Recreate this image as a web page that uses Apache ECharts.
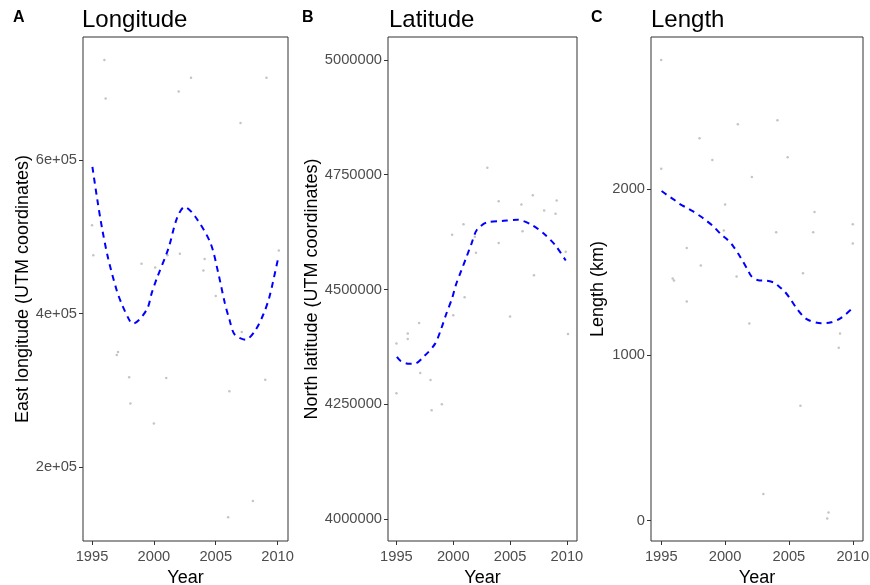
<!DOCTYPE html>
<html>
<head>
<meta charset="utf-8">
<script src="https://cdn.jsdelivr.net/npm/echarts@6/dist/echarts.min.js"></script>
<style>
  html, body { margin: 0; padding: 0; background: #fff; }
  #chart { width: 870px; height: 585px; }
</style>
</head>
<body>
<div id="chart"></div>
<script>
// year ticks shared by all three panels
var yearTicks = [1995, 2000, 2005, 2010];

// A - longitude
var lonYears = [1996.0, 1996.1, 2003.0, 2002.0, 2009.1, 2007.0, 1995.0, 1995.1, 1999.0, 2000.1, 2001.1, 2002.1, 2004.1, 2004.0, 2010.1,
                2005.0, 1997.1, 1997.0, 2007.1, 1998.0, 2001.0, 1998.1, 2000.0, 2006.1, 2009.0, 2008.0, 2006.0];
var lonValues = [730000, 680000, 707000, 689000, 707000, 648000, 515000, 476000, 465000, 460000, 476000, 478000, 471000, 456000, 482000,
                 423000, 350000, 346000, 376000, 317000, 316000, 283000, 257000, 299000, 314000, 156000, 135000];
var lonFitYears = [1995.03, 1995.41, 1995.81, 1996.30, 1996.98, 1997.39, 1998.07, 1998.33, 1999.42, 1999.83, 2000.24, 2001.18, 2001.86,
                   2002.48, 2003.35, 2004.57, 2005.20, 2005.73, 2006.11, 2006.52, 2007.41, 2008.23, 2008.90, 2009.31, 2009.61, 2010.07];
var lonFitValues = [591000, 550000, 511000, 472000, 431000, 413000, 390000, 387000, 405000, 427000, 446000, 485000, 524000,
                    539000, 526000, 492000, 453000, 414000, 392000, 373000, 366000, 379000, 401000, 420000, 440000, 474000];
var lonTicks = [200000, 400000, 600000];

// B - latitude
var latYears = [2003.0, 2004.0, 2006.0, 2007.0, 2008.0, 2009.1, 2009.0, 2000.9, 1999.9, 2001.9, 2006.1, 2004.0, 2002.0, 2009.9, 2007.1,
                2001.0, 2000.0, 2005.0, 2010.1, 1997.0, 1996.0, 1996.0, 1995.0, 1997.1, 1998.0, 1995.0, 1999.0, 1998.1];
var latValues = [4765000, 4692000, 4685000, 4705000, 4672000, 4694000, 4665000, 4642000, 4619000, 4615000, 4627000, 4601000, 4580000, 4582000, 4531000,
                 4483000, 4444000, 4441000, 4403000, 4427000, 4404000, 4392000, 4382000, 4318000, 4303000, 4274000, 4250000, 4237000];
var latFitYears = [1995.04, 1995.39, 1996.13, 1996.57, 1997.46, 1998.41, 1998.95, 1999.39, 1999.89, 2000.22, 2000.72, 2001.17, 2001.61,
                   2002.06, 2002.95, 2004.28, 2005.61, 2006.95, 2008.13, 2009.02, 2009.90];
var latFitValues = [4353000, 4344000, 4338000, 4338000, 4355000, 4382000, 4415000, 4447000, 4480000, 4509000, 4542000, 4571000, 4600000,
                    4629000, 4646000, 4649000, 4652000, 4640000, 4618000, 4595000, 4563000];
var latTicks = [4000000, 4250000, 4500000, 4750000, 5000000];

// C - length (km)
var lenYears = [1995.0, 2001.0, 2004.1, 1998.0, 1999.0, 2004.9, 1995.0, 2002.1, 2000.0, 2007.0, 2010.0, 1999.9, 2004.0, 2006.9, 2010.0,
                1997.0, 1998.1, 1995.9, 1996.0, 2000.9, 2006.1, 1997.0, 2001.9, 2009.0, 2008.9, 2005.9, 2003.0, 2008.1, 2008.0];
var lenValues = [2779, 2391, 2415, 2306, 2175, 2192, 2123, 2073, 1906, 1861, 1787, 1750, 1740, 1740, 1672,
                 1644, 1539, 1460, 1448, 1473, 1492, 1321, 1189, 1128, 1042, 693, 161, 49, 12];
var lenFitYears = [1995.03, 1995.42, 1996.07, 1996.41, 1997.11, 1997.50, 1998.16, 1998.41, 1999.06, 1999.72, 2000.11, 2000.63, 2001.20,
                   2001.80, 2002.06, 2002.71, 2003.10, 2003.88, 2004.14, 2004.66, 2005.05, 2005.58, 2006.36, 2007.53, 2008.31, 2009.09, 2010.00];
var lenFitValues = [1988, 1966, 1932, 1912, 1882, 1865, 1831, 1817, 1776, 1724, 1700, 1656, 1589,
                    1509, 1474, 1448, 1448, 1434, 1418, 1382, 1344, 1283, 1217, 1190, 1196, 1223, 1283];
var lenTicks = [0, 1000, 2000];

function zip(xs, ys) {
  return xs.map(function (x, i) { return [x, ys[i]]; });
}

var FONT = 'Liberation Sans';
var tickColor = '#333';
var labelColor = '#4d4d4d';

var grids = [
  { left: 83, right: 582, top: 37, bottom: 44 },
  { left: 388, right: 293, top: 37, bottom: 44 },
  { left: 651, right: 7, top: 37, bottom: 44 }
];

function xAxisFor(i, min, max) {
  return {
    gridIndex: i, type: 'value', min: min, max: max,
    name: 'Year', nameLocation: 'middle', nameGap: 20,
    nameTextStyle: { fontFamily: FONT, fontSize: 18, color: '#000' },
    axisLine: { show: false, onZero: false },
    splitLine: { show: false },
    axisTick: { show: true, length: 4, lineStyle: { color: tickColor }, customValues: yearTicks },
    axisLabel: { fontFamily: FONT, fontSize: 14.7, color: labelColor, margin: 8, customValues: yearTicks,
                 formatter: function (v) { return String(v); } }
  };
}

function yAxisFor(i, min, max, ticks, name, gap, fmt) {
  return {
    gridIndex: i, type: 'value', min: min, max: max,
    name: name, nameLocation: 'middle', nameGap: gap,
    nameTextStyle: { fontFamily: FONT, fontSize: 18, color: '#000' },
    axisLine: { show: false, onZero: false },
    splitLine: { show: false },
    axisTick: { show: true, length: 4, lineStyle: { color: tickColor }, customValues: ticks },
    axisLabel: { fontFamily: FONT, fontSize: 14.7, color: labelColor, margin: 6, customValues: ticks, formatter: fmt }
  };
}

function sciFmt(v) {
  var e = Math.floor(Math.log10(v));
  var m = v / Math.pow(10, e);
  return m + 'e+' + (e < 10 ? '0' + e : e);
}

function pointSeries(i, data) {
  return {
    type: 'scatter', xAxisIndex: i, yAxisIndex: i, data: data,
    symbolSize: 2.5, itemStyle: { color: '#b5b5b5' }, silent: true
  };
}

function fitSeries(i, data) {
  return {
    type: 'line', xAxisIndex: i, yAxisIndex: i, data: data,
    showSymbol: false, smooth: 0.3, silent: true,
    lineStyle: { color: '#0000ff', width: 2, type: [6, 5] }
  };
}

function tag(text, left) {
  return { text: text, left: left, top: 10, padding: 0,
           textStyle: { fontFamily: FONT, fontSize: 16, fontWeight: 'bold', color: '#000' } };
}

function heading(text, left) {
  return { text: text, left: left, top: 8, padding: 0,
           textStyle: { fontFamily: FONT, fontSize: 24, fontWeight: 'normal', color: '#000' } };
}

var chart = echarts.init(document.getElementById('chart'), null, { renderer: 'canvas' });

chart.setOption({
  backgroundColor: '#fff',
  animation: false,
  title: [
    tag('A', 13), heading('Longitude', 82),
    tag('B', 302), heading('Latitude', 389),
    tag('C', 591), heading('Length', 651)
  ],
  grid: grids.map(function (g) {
    return Object.assign({ show: true, borderColor: '#333', borderWidth: 1, backgroundColor: '#fff',
                           containLabel: false, outerBoundsMode: 'none' }, g);
  }),
  xAxis: [
    xAxisFor(0, 1994.27, 2010.84),
    xAxisFor(1, 1994.26, 2010.89),
    xAxisFor(2, 1994.2, 2010.8)
  ],
  yAxis: [
    yAxisFor(0, 104000, 760000, lonTicks, 'East longitude (UTM coordinates)', 50, sciFmt),
    yAxisFor(1, 3952000, 5050000, latTicks, 'North latitude (UTM coordinates)', 66, function (v) { return String(v); }),
    yAxisFor(2, -123, 2917, lenTicks, 'Length (km)', 44, function (v) { return String(v); })
  ],
  series: [
    pointSeries(0, zip(lonYears, lonValues)),
    fitSeries(0, zip(lonFitYears, lonFitValues)),
    pointSeries(1, zip(latYears, latValues)),
    fitSeries(1, zip(latFitYears, latFitValues)),
    pointSeries(2, zip(lenYears, lenValues)),
    fitSeries(2, zip(lenFitYears, lenFitValues))
  ]
});
</script>
</body>
</html>
